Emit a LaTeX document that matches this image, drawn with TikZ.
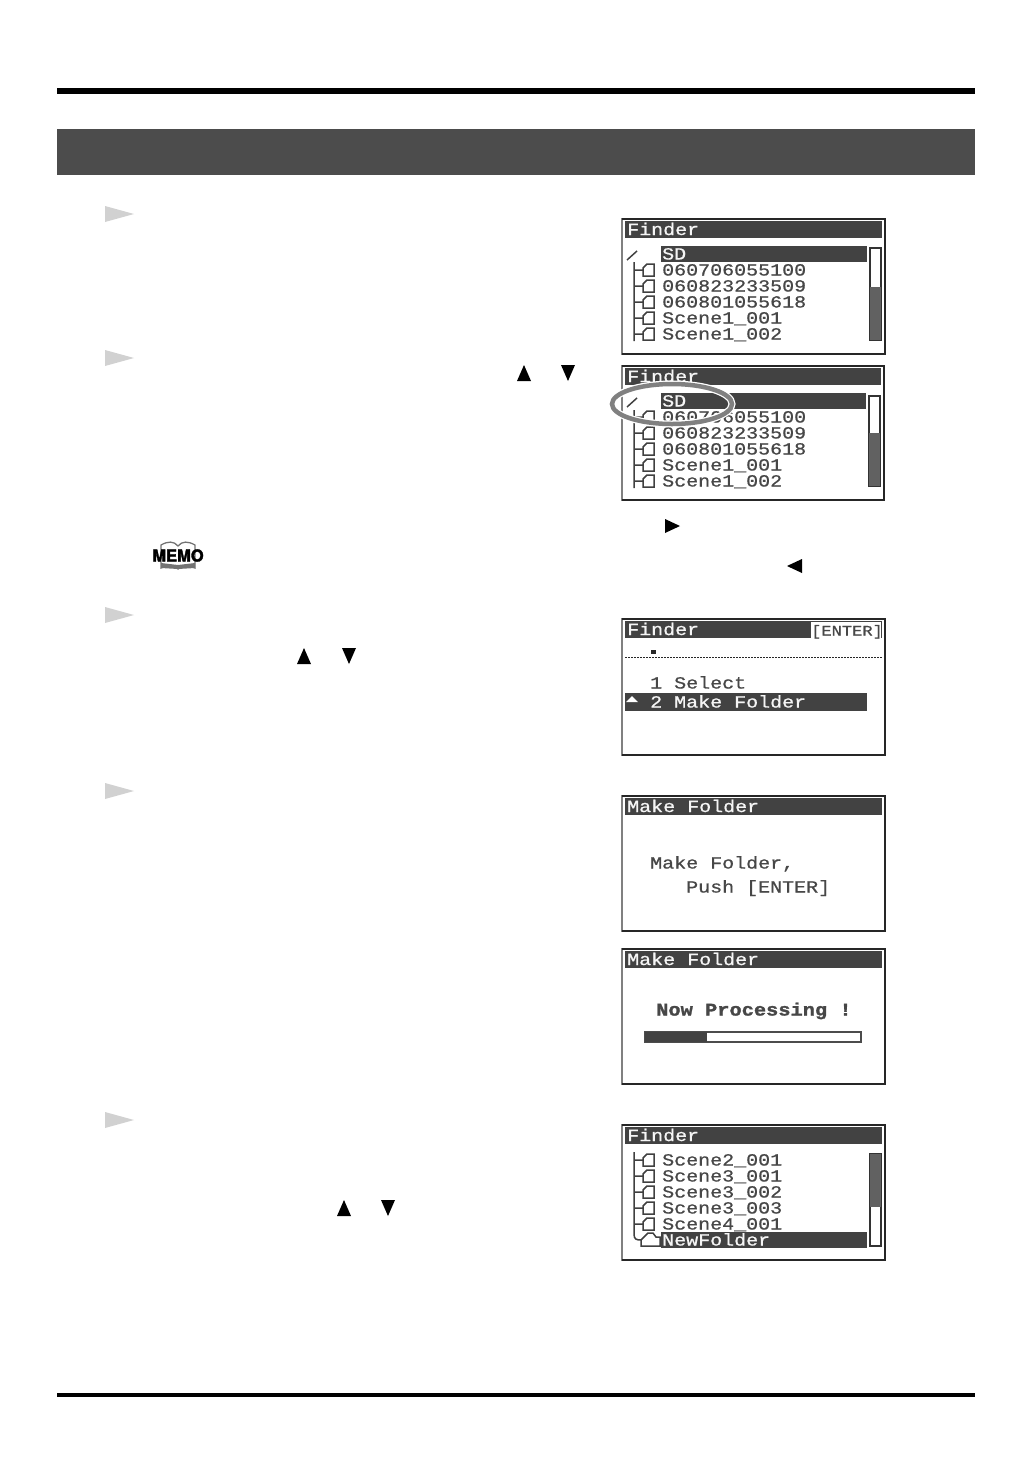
\documentclass[tikz,border=0pt]{standalone}
\usepackage{fontspec}
\newfontfamily\lcdfont[FakeStretch=1.176,FakeBold=0.8]{Liberation Mono}
\newfontfamily\lcdheavy[FakeStretch=1.15,FakeBold=1.6]{Liberation Mono Bold}
\newfontfamily\memofont[FakeBold=2]{TeX Gyre Heros Bold}
\tikzset{
  lcdtext/.style={anchor=west,inner sep=0pt,text height=11pt,text depth=0pt,text=black!72,font=\lcdfont\fontsize{17}{17}\selectfont},
  lcdinv/.style={lcdtext,text=black!4},
  lcdline/.style={draw=black!75,line width=1.5pt},
  marker/.style={fill=black!18},
  keytip/.style={fill=black},
  pics/folder/.style={code={
    \draw[lcdline] (-9,0) -- (0,0) (0,6) -- (0,-2) -- (4,-6) -- (11,-6) -- (11,6) -- cycle;
  }}
}
\begin{document}
\begin{tikzpicture}[x=1pt,y=-1pt]
  \useasboundingbox (0,0) rectangle (1032,1457);

  % page rules and heading band
  \fill[black] (57,88) rectangle (975,94);
  \fill[black!70] (57,129) rectangle (975,175);
  \fill[black] (57,1393) rectangle (975,1397);

  % step markers
  \foreach \my in {214,358,615,791,1120}
    \fill[marker] (105,\my-8) -- (134,\my) -- (105,\my+8) -- cycle;

  % key arrows
  \foreach \kx/\ky in {524/373,304/656,344/1208}
    \fill[keytip] (\kx,\ky-8) -- (\kx+7,\ky+8) -- (\kx-7,\ky+8) -- cycle;
  \foreach \kx/\ky in {568/373,349/656,388/1208}
    \fill[keytip] (\kx,\ky+8) -- (\kx+7,\ky-8) -- (\kx-7,\ky-8) -- cycle;
  \fill[keytip] (665,519) -- (680,526) -- (665,533) -- cycle;
  \fill[keytip] (802,559) -- (787,566) -- (802,573) -- cycle;

  % memo icon
  \draw[black!55,line width=1.3pt] (161,568) -- (161,545) .. controls (168,541) and (174,541) .. (178,546)
    .. controls (182,541) and (188,541) .. (195,545) -- (195,568) .. controls (188,565) and (182,566) .. (178,569)
    .. controls (174,566) and (168,565) .. (161,568) -- cycle;
  \fill[black!55] (161,563) -- (178,565) -- (195,563) -- (195,568) -- (178,569) -- (161,568) -- cycle;
  \node[inner sep=0pt,font=\memofont\fontsize{16.5}{16.5}\selectfont] (memo) at (178,555.5) {MEMO};

  % screens
  \foreach \sx/\sy/\sw/\sh/\sname/\stitle in {622/219/263/135/one/Finder,622/366/262/134/two/Finder,622/619/263/136/three/Finder,622/796/263/135/four/Make Folder,622/949/263/135/five/Make Folder,622/1125/263/135/six/Finder} {
    \draw[black!50,line width=1.2pt] (\sx,\sy) rectangle (\sx+\sw,\sy+\sh);
    \draw[black!85,line width=1.6pt] (\sx,\sy) -| (\sx+\sw,\sy+\sh) -- (\sx,\sy+\sh);
    \fill[black!74] (\sx+3,\sy+2) rectangle (\sx+\sw-3,\sy+19);
    \node[lcdinv] (title\sname) at (\sx+5,\sy+10.5) {\stitle};
  }

  % first finder
  \fill[black!74] (661,246) rectangle (867,262);
  \node[lcdinv] (sdone) at (662,254) {SD};
  \draw[lcdline] (627,260) -- (637,251) (634,262) -- (634,341);
  \foreach \ry/\rname/\rtext in {270/a/060706055100,286/b/060823233509,302/c/060801055618,318/d/Scene1\_001,334/e/Scene1\_002} {
    \pic at (643,\ry) {folder};
    \node[lcdtext] (one\rname) at (662,\ry) {\rtext};
  }
  \draw[black!80,line width=1.2pt,fill=white] (870,248) rectangle (881,340);
  \fill[black!62] (870,287) rectangle (881,340);

  % second finder
  \fill[black!74] (661,393) rectangle (866,409);
  \node[lcdinv] (sdtwo) at (662,401) {SD};
  \draw[lcdline] (627,407) -- (637,398) (634,410) -- (634,488);
  \foreach \ry/\rname/\rtext in {417/a/060706055100,433/b/060823233509,449/c/060801055618,465/d/Scene1\_001,481/e/Scene1\_002} {
    \pic at (643,\ry) {folder};
    \node[lcdtext] (two\rname) at (662,\ry) {\rtext};
  }
  \draw[black!80,line width=1.2pt,fill=white] (869,396) rectangle (880,486);
  \fill[black!62] (869,433) rectangle (880,486);
  \draw[white,line width=7pt] (672,404) ellipse [x radius=60,y radius=20];
  \draw[black!50,line width=4.5pt] (672,404) ellipse [x radius=60,y radius=20];

  % menu
  \fill[white] (811,622) rectangle (881,638);
  \node[lcdtext,font=\lcdfont\fontsize{14.5}{14.5}\selectfont] (enterkey) at (811,630) {[ENTER]};
  \fill[black!85] (651,650) rectangle (656,654);
  \draw[black!85,line width=1.6pt,dash pattern=on 1.5pt off 1.5pt] (625,657.5) -- (882,657.5);
  \node[lcdtext] (selectitem) at (650,683) {1 Select};
  \fill[black!74] (625,693) rectangle (867,711);
  \fill[white] (632,696) -- (638,702) -- (626,702) -- cycle;
  \node[lcdinv] (makeitem) at (650,702) {2 Make Folder};

  % confirm
  \node[lcdtext] (confirm) at (650,863) {Make Folder,};
  \node[lcdtext] (pushkey) at (686,887) {Push [ENTER]};

  % processing
  \node[lcdtext,font=\lcdheavy\fontsize{17.7}{17.7}\selectfont] (processing) at (656,1010) {Now Processing !};
  \draw[black!70,line width=1.2pt,fill=white] (645,1032) rectangle (861,1042);
  \fill[black!74] (645,1032) rectangle (707,1042);

  % last finder
  \draw[lcdline] (634,1152) -- (634,1234) .. controls (634,1239) and (636,1240) .. (641,1240);
  \foreach \ry/\rname/\rtext in {1160/a/Scene2\_001,1176/b/Scene3\_001,1192/c/Scene3\_002,1208/d/Scene3\_003,1224/e/Scene4\_001} {
    \pic at (643,\ry) {folder};
    \node[lcdtext] (six\rname) at (662,\ry) {\rtext};
  }
  \draw[lcdline] (641,1246) -- (641,1240) -- (648,1233) -- (653,1233) -- (656,1237) -- (660,1237) -- (660,1246) -- cycle;
  \fill[black!74] (661,1232) rectangle (867,1248);
  \node[lcdinv] (newfolder) at (662,1240) {NewFolder};
  \draw[black!80,line width=1.2pt,fill=white] (870,1154) rectangle (881,1246);
  \fill[black!62] (870,1154) rectangle (881,1207);
\end{tikzpicture}
\end{document}
